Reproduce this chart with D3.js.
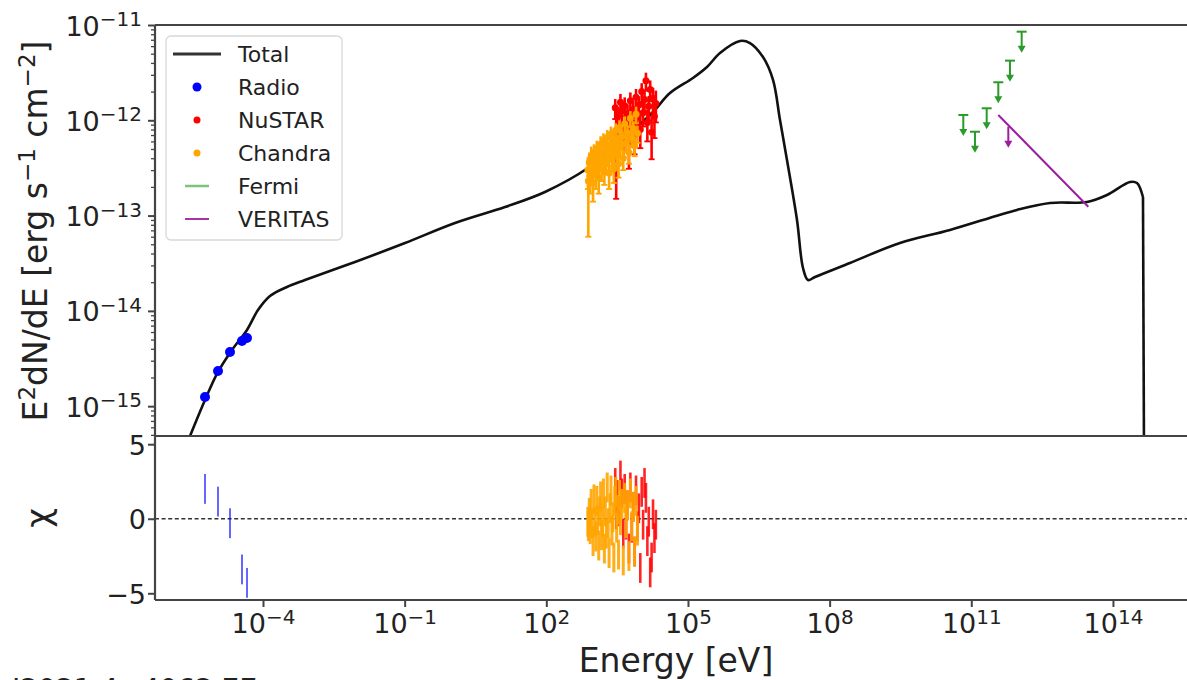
<!DOCTYPE html>
<html>
<head>
<meta charset="utf-8">
<script src="https://cdn.jsdelivr.net/npm/d3@7/dist/d3.min.js"></script>
<style>
  body { margin: 0; background: #fff; }
  text { font-family: "DejaVu Sans", sans-serif; fill: #222; }
</style>
</head>
<body>
<script>
// total model (log10 E [eV], log10 E^2dN/dE)
var modelLogE = [-5.631, -5.228, -4.953, -4.657, -4.339, -4.106, -3.852, -3.492, -3.111, -2.052,
  -0.993, 0.066, 1.125, 1.972, 2.883, 3.56, 4.259, 4.619, 5.106, 5.403, 5.678, 6.102, 6.313,
  6.589, 6.801, 6.949, 7.097, 7.309, 7.436, 7.542, 7.69, 8.431, 9.49, 10.549, 11.968, 12.667, 13.45,
  13.874, 14.361, 14.509, 14.636];
var modelLogF = [-15.418, -14.935, -14.641, -14.41, -14.2, -13.991, -13.844, -13.749, -13.676, -13.487,
  -13.288, -13.078, -12.91, -12.752, -12.501, -12.228, -11.913, -11.714, -11.556, -11.441, -11.294, -11.168, -11.189,
  -11.336, -11.577, -11.997, -12.417, -13.046, -13.55, -13.676, -13.644, -13.497, -13.288, -13.151, -12.941, -12.868, -12.857,
  -12.784, -12.647, -12.658, -12.805];
// sharp cutoff at the high energy end
var cutoffLogE = [14.636, 14.657];
var cutoffLogF = [-12.805, -15.41];

// radio points
var radioLogE = [-5.228, -4.953, -4.699, -4.445, -4.339];
var radioLogF = [-14.903, -14.631, -14.431, -14.316, -14.284];
var radioChi = [2.0, 1.15, -0.3, -3.4, -4.3];

// chandra: log10 E, flux and sigma in 1e-13 erg/s/cm2, residual
var chandraLogE = [2.88, 2.89, 2.91, 2.93, 2.95, 2.97, 2.99, 3.01, 3.03, 3.05, 3.07, 3.09, 3.11, 3.13, 3.15, 3.17,
  3.19, 3.21, 3.23, 3.25, 3.27, 3.29, 3.31, 3.33, 3.35, 3.37, 3.39, 3.41, 3.43, 3.45, 3.47, 3.49,
  3.51, 3.53, 3.55, 3.57, 3.60, 3.63, 3.66, 3.69, 3.72, 3.75, 3.78, 3.81, 3.84, 3.87, 3.90, 3.93];
var chandraFlux = [3.0, 2.3, 3.6, 2.6, 4.2, 3.1, 2.2, 4.6, 3.4, 2.7, 5.0, 3.8, 2.5, 4.4, 5.6, 3.2,
  4.0, 6.0, 2.9, 4.8, 3.6, 6.6, 4.3, 2.8, 5.5, 7.2, 3.9, 5.0, 3.1, 6.3, 7.8, 4.4,
  5.8, 3.5, 8.4, 5.2, 6.7, 4.0, 9.2, 5.8, 7.4, 4.6, 10.5, 6.5, 8.2, 5.4, 11.6, 7.3];
var chandraSigma = [1.1, 1.7, 1.0, 0.9, 1.1, 0.8, 0.8, 1.0, 0.9, 0.8, 1.1, 0.9, 0.8, 1.0, 1.2, 0.9,
  0.9, 1.3, 0.8, 1.0, 0.9, 1.3, 1.0, 0.9, 1.1, 1.4, 1.0, 1.0, 0.9, 1.2, 1.5, 1.0,
  1.1, 1.0, 1.6, 1.1, 1.3, 1.0, 1.8, 1.2, 1.5, 1.1, 2.0, 1.3, 1.6, 1.2, 2.3, 1.5];
var chandraChi = [-0.2, -0.5, 0.4, -0.7, 1.0, -0.3, -1.5, 1.3, -0.2, -1.2, 1.2, -0.1, -1.8, 0.5, 1.5, -1.1,
  -0.2, 1.7, -2.0, 0.5, -1.0, 2.1, -0.3, -2.3, 0.7, 1.9, -0.8, 0.1, -2.6, 1.2, 1.8, -0.6,
  0.6, -2.4, 1.6, -0.1, 1.0, -2.8, 1.4, -0.3, 0.9, -2.5, 1.7, -0.5, 0.8, -2.2, 1.2, -0.8];

// nustar
var nustarLogE = [3.46, 3.48, 3.51, 3.54, 3.57, 3.60, 3.63, 3.66, 3.69, 3.72, 3.75, 3.78, 3.81, 3.84, 3.87,
  3.90, 3.93, 3.96, 3.99, 4.02, 4.05, 4.08, 4.11, 4.14, 4.17, 4.20, 4.23, 4.26, 4.29, 4.32];
var nustarFlux = [13.5, 7.8, 11.0, 9.0, 15.5, 12.5, 6.5, 14.2, 8.6, 11.8, 5.9, 16.0, 9.5, 13.0, 7.0,
  17.5, 10.8, 14.5, 8.0, 20.0, 12.0, 16.5, 26.0, 9.5, 14.0, 21.0, 7.5, 17.0, 11.0, 15.0];
var nustarSigma = [3.2, 6.3, 2.8, 2.6, 3.4, 3.0, 2.4, 3.2, 2.6, 2.9, 2.8, 3.6, 2.7, 3.1, 2.6,
  3.8, 3.0, 3.4, 2.9, 4.5, 3.4, 4.0, 5.6, 3.5, 4.0, 5.2, 3.6, 5.0, 4.5, 5.5];
var nustarChi = [2.4, 0.3, 1.6, 0.5, 2.9, 1.7, -1.0, 2.0, -0.4, 0.9, -2.0, 2.1, -0.6, 0.8, -2.2,
  1.9, -0.5, 0.7, -3.3, 1.8, -0.4, 2.4, 1.4, -1.5, -0.2, -3.6, -2.6, 0.3, -1.3, -0.4];

// fermi upper limits
var fermiLogE = [10.831, 11.078, 11.326, 11.572, 11.819, 12.067];
var fermiLogF = [-11.944, -12.12, -11.874, -11.601, -11.374, -11.07];

// veritas power law and upper limit
var veritasLogE = [11.572, 13.478];
var veritasLogF = [-11.944, -12.907];
var veritasUlLogE = [11.784];
var veritasUlLogF = [-12.067];

var legendNames = ["Total", "Radio", "NuSTAR", "Chandra", "Fermi", "VERITAS"];
var xTickExp = [-4, -1, 2, 5, 8, 11, 14];
var yTickExp = [-15, -14, -13, -12, -11];
var chiTicks = [-5, 0, 5];

var p = Math.pow;
var W = 1187, H = 680;
var svg = d3.select("body").append("svg").attr("width", W).attr("height", H);

var x = d3.scaleLog().domain([p(10, -6.287), p(10, 15.78)]).range([155, 1197]);
var yTop = d3.scaleLog().domain([p(10, -15.313), 1e-11]).range([436, 25]);
var yBot = d3.scaleLinear().domain([-5.45, 5.55]).range([600, 436]);

var ARROW = 0.2; // length of upper-limit arrows in dex

svg.append("clipPath").attr("id", "clipTop").append("rect")
  .attr("x", 155).attr("y", 25).attr("width", 1042).attr("height", 411);
svg.append("clipPath").attr("id", "clipBot").append("rect")
  .attr("x", 155).attr("y", 436).attr("width", 1042).attr("height", 164);

var gTop = svg.append("g").attr("clip-path", "url(#clipTop)");
var gBot = svg.append("g").attr("clip-path", "url(#clipBot)");

// model
function pairs(le, lf) {
  return le.map(function(e, i) { return [p(10, e), p(10, lf[i])]; });
}
var line = d3.line().x(function(d) { return x(d[0]); }).y(function(d) { return yTop(d[1]); });
gTop.append("path")
  .datum(pairs(modelLogE, modelLogF))
  .attr("fill", "none").attr("stroke", "#111").attr("stroke-width", 2.6)
  .attr("stroke-linejoin", "round")
  .attr("d", line.curve(d3.curveCatmullRom.alpha(0.5)));
gTop.append("path")
  .datum(pairs(cutoffLogE, cutoffLogF))
  .attr("fill", "none").attr("stroke", "#111").attr("stroke-width", 2.6)
  .attr("d", line.curve(d3.curveLinear));

// x-ray points with error bars
function xray(logE, flux, sigma, color) {
  var pts = logE.map(function(e, i) {
    return {e: p(10, e), f: flux[i] * 1e-13, s: sigma[i] * 1e-13};
  });
  var g = gTop.append("g");
  g.selectAll("line.eb").data(pts).enter().append("line")
    .attr("x1", function(d) { return x(d.e); })
    .attr("x2", function(d) { return x(d.e); })
    .attr("y1", function(d) { return yTop(d.f + d.s); })
    .attr("y2", function(d) { return yTop(Math.max(d.f - d.s, 1e-16)); })
    .attr("stroke", color).attr("stroke-width", 2.6);
  g.selectAll("line.cap").data(pts).enter().append("line")
    .attr("x1", function(d) { return x(d.e) - 3; })
    .attr("x2", function(d) { return x(d.e) + 3; })
    .attr("y1", function(d) { return yTop(Math.max(d.f - d.s, 1e-16)); })
    .attr("y2", function(d) { return yTop(Math.max(d.f - d.s, 1e-16)); })
    .attr("stroke", color).attr("stroke-width", 1.8);
  g.selectAll("circle").data(pts).enter().append("circle")
    .attr("cx", function(d) { return x(d.e); })
    .attr("cy", function(d) { return yTop(d.f); })
    .attr("r", 3.5)
    .attr("fill", color);
}
xray(nustarLogE, nustarFlux, nustarSigma, "#ff0000");
xray(chandraLogE, chandraFlux, chandraSigma, "#ffa500");

// radio
gTop.selectAll("circle.radio").data(radioLogE).enter().append("circle")
  .attr("class", "radio")
  .attr("cx", function(d) { return x(p(10, d)); })
  .attr("cy", function(d, i) { return yTop(p(10, radioLogF[i])); })
  .attr("r", 5)
  .attr("fill", "#0000ff");

// upper limits
function upperLimits(logE, logF, color, cap) {
  var g = svg.append("g");
  logE.forEach(function(e, i) {
    var cx = x(p(10, e)), y1 = yTop(p(10, logF[i])), y2 = yTop(p(10, logF[i] - ARROW));
    g.append("line").attr("x1", cx).attr("x2", cx).attr("y1", y1).attr("y2", y2 - 4)
      .attr("stroke", color).attr("stroke-width", 2);
    if (cap) g.append("line").attr("x1", cx - 5).attr("x2", cx + 5).attr("y1", y1).attr("y2", y1)
      .attr("stroke", color).attr("stroke-width", 2);
    g.append("path")
      .attr("d", "M" + (cx - 4) + "," + (y2 - 5) + "L" + (cx + 4) + "," + (y2 - 5) + "L" + cx + "," + (y2 + 2) + "Z")
      .attr("fill", color);
  });
}
upperLimits(fermiLogE, fermiLogF, "#2a9a2a", true);

svg.append("line")
  .attr("x1", x(p(10, veritasLogE[0]))).attr("y1", yTop(p(10, veritasLogF[0])))
  .attr("x2", x(p(10, veritasLogE[1]))).attr("y2", yTop(p(10, veritasLogF[1])))
  .attr("stroke", "#9a1f9e").attr("stroke-width", 2);
upperLimits(veritasUlLogE, veritasUlLogF, "#9a1f9e", false);

// residuals
gBot.append("line")
  .attr("x1", 155).attr("x2", 1197)
  .attr("y1", yBot(0)).attr("y2", yBot(0))
  .attr("stroke", "#333").attr("stroke-width", 1.6).attr("stroke-dasharray", "4,2.6");

function resid(logE, chi, color, op, w) {
  gBot.append("g").selectAll("line").data(logE).enter().append("line")
    .attr("x1", function(d) { return x(p(10, d)); })
    .attr("x2", function(d) { return x(p(10, d)); })
    .attr("y1", function(d, i) { return yBot(chi[i] + 1); })
    .attr("y2", function(d, i) { return yBot(chi[i] - 1); })
    .attr("stroke", color).attr("stroke-width", w).attr("opacity", op);
}
resid(radioLogE, radioChi, "#0000ff", 0.6, 2);
resid(nustarLogE, nustarChi, "#ff0000", 0.85, 2.6);
resid(chandraLogE, chandraChi, "#ffa500", 0.9, 3);

// spines
var axisColor = "#444";
[[155, 25, 1197, 25], [155, 436, 1197, 436], [155, 600, 1197, 600], [155, 25, 155, 600]]
  .forEach(function(s) {
    svg.append("line").attr("x1", s[0]).attr("y1", s[1]).attr("x2", s[2]).attr("y2", s[3])
      .attr("stroke", axisColor).attr("stroke-width", 2.2);
  });

function styleAxis(g) {
  g.select(".domain").remove();
  g.selectAll(".tick line").attr("stroke", axisColor).attr("stroke-width", 2);
  g.selectAll(".tick text").remove();
}

function supLabel(sel, base, exp, tx, ty, anchor) {
  var t = sel.append("text").attr("x", tx).attr("y", ty)
    .attr("text-anchor", anchor).attr("font-size", 27);
  t.append("tspan").text(base);
  t.append("tspan").attr("font-size", 20).attr("dy", -9.5).text(exp);
}

// x axis
var gx = svg.append("g").attr("transform", "translate(0,600)")
  .call(d3.axisBottom(x).tickValues(xTickExp.map(function(e) { return p(10, e); }))
    .tickSize(7).tickSizeOuter(0));
styleAxis(gx);
gx.selectAll(".tick").each(function(d, i) {
  var e = xTickExp[i];
  supLabel(d3.select(this), "10", (e < 0 ? "\u2212" : "") + Math.abs(e), 0, 33, "middle");
});

// top y axis, major and minor
var minor = [];
for (var dec = -16; dec < -11; dec++) for (var k = 2; k < 10; k++) minor.push(k * p(10, dec));
var gyMin = svg.append("g").attr("transform", "translate(155,0)")
  .call(d3.axisLeft(yTop).tickValues(minor.filter(function(v) { return v > p(10, -15.313) && v < 1e-11; }))
    .tickSize(4).tickSizeOuter(0));
styleAxis(gyMin);
gyMin.selectAll(".tick line").attr("stroke-width", 1.3);

var gy = svg.append("g").attr("transform", "translate(155,0)")
  .call(d3.axisLeft(yTop).tickValues(yTickExp.map(function(e) { return p(10, e); }))
    .tickSize(7).tickSizeOuter(0));
styleAxis(gy);
gy.selectAll(".tick").each(function(d, i) {
  supLabel(d3.select(this), "10", "\u2212" + Math.abs(yTickExp[i]), -13, 10, "end");
});

// chi axis
var gc = svg.append("g").attr("transform", "translate(155,0)")
  .call(d3.axisLeft(yBot).tickValues(chiTicks).tickSize(7).tickSizeOuter(0));
styleAxis(gc);
gc.selectAll(".tick").append("text")
  .attr("x", -9).attr("y", 10)
  .attr("text-anchor", "end").attr("font-size", 27)
  .text(function(d) { return d < 0 ? "\u2212" + Math.abs(d) : d; });

// axis labels
var yl = svg.append("text")
  .attr("transform", "translate(47,231) rotate(-90)")
  .attr("text-anchor", "middle").attr("font-size", 33);
yl.append("tspan").text("E");
yl.append("tspan").attr("font-size", 23).attr("dy", -12).text("2");
yl.append("tspan").attr("dy", 12).text("dN/dE [erg s");
yl.append("tspan").attr("font-size", 23).attr("dy", -12).text("\u22121");
yl.append("tspan").attr("dy", 12).text(" cm");
yl.append("tspan").attr("font-size", 23).attr("dy", -12).text("\u22122");
yl.append("tspan").attr("dy", 12).text("]");

svg.append("text")
  .attr("transform", "translate(50,518) rotate(-90)")
  .attr("text-anchor", "middle").attr("font-size", 34)
  .text("\u03c7");

svg.append("text")
  .attr("x", 676).attr("y", 672)
  .attr("text-anchor", "middle").attr("font-size", 33)
  .text("Energy [eV]");

// caption line that the original crop cuts through
svg.append("text")
  .attr("x", 12).attr("y", 699)
  .attr("font-size", 28)
  .text("J2021.4+4062.77");

// legend
var lg = svg.append("g");
lg.append("rect")
  .attr("x", 166).attr("y", 36).attr("width", 176).attr("height", 204)
  .attr("rx", 5).attr("fill", "#fff").attr("fill-opacity", 0.85)
  .attr("stroke", "#d8d8d8").attr("stroke-width", 1.3);
var rowY = d3.scalePoint().domain(legendNames).range([54, 219]);
lg.selectAll("text.lab").data(legendNames).enter().append("text")
  .attr("x", 238).attr("y", function(d) { return rowY(d) + 8; })
  .attr("font-size", 22)
  .text(function(d) { return d; });
lg.append("line").attr("x1", 173).attr("x2", 221).attr("y1", rowY("Total")).attr("y2", rowY("Total"))
  .attr("stroke", "#333").attr("stroke-width", 3.2);
lg.append("circle").attr("cx", 197).attr("cy", rowY("Radio")).attr("r", 4.5).attr("fill", "#0000ff");
lg.append("circle").attr("cx", 197).attr("cy", rowY("NuSTAR")).attr("r", 3.5).attr("fill", "#ff0000");
lg.append("circle").attr("cx", 197).attr("cy", rowY("Chandra")).attr("r", 3.5).attr("fill", "#ffa500");
lg.append("line").attr("x1", 185).attr("x2", 209).attr("y1", rowY("Fermi")).attr("y2", rowY("Fermi"))
  .attr("stroke", "#2a9a2a").attr("stroke-opacity", 0.6).attr("stroke-width", 2.5);
lg.append("line").attr("x1", 185).attr("x2", 209).attr("y1", rowY("VERITAS")).attr("y2", rowY("VERITAS"))
  .attr("stroke", "#9a1f9e").attr("stroke-width", 1.8);
</script>
</body>
</html>
